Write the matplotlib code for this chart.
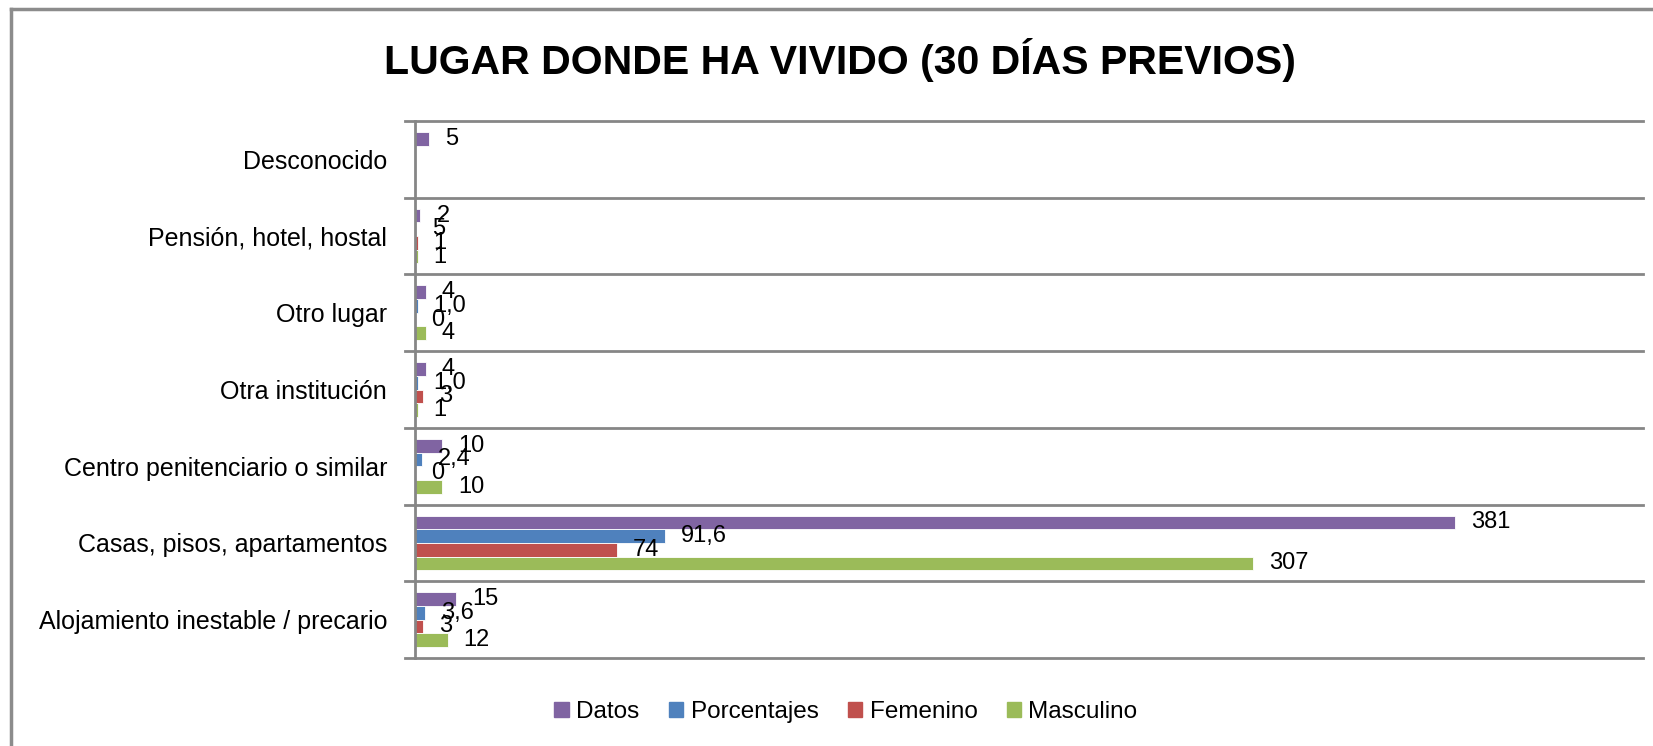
import numpy as np
import matplotlib
matplotlib.use("Agg")
import matplotlib.pyplot as plt
from matplotlib import font_manager as fm
from matplotlib.patches import Rectangle
from matplotlib.lines import Line2D

names = {f.name for f in fm.fontManager.ttflist}
FONT = "Liberation Sans Narrow" if "Liberation Sans Narrow" in names else "Liberation Sans"
TFONT = FONT
for cand in ["Liberation Sans Narrow", "DejaVu Sans Condensed"]:
    if cand in names:
        TFONT = cand
        break
plt.rcParams['font.family'] = [FONT, 'DejaVu Sans']

title = "LUGAR DONDE HA VIVIDO (30 DÍAS PREVIOS)"
categories = ["Alojamiento inestable / precario", "Casas, pisos, apartamentos",
              "Centro penitenciario o similar", "Otra institución", "Otro lugar",
              "Pensión, hotel, hostal", "Desconocido"]
series = ["Datos", "Porcentajes", "Femenino", "Masculino"]
colors = ["#8064A2", "#4F81BD", "#C0504D", "#9BBB59"]
datos = [15, 381, 10, 4, 4, 2, 5]
porcentajes = [3.6, 91.6, 2.4, 1.0, 1.0, 0.5, np.nan]
femenino = [3, 74, 0, 3, 0, 1, np.nan]
masculino = [12, 307, 10, 1, 4, 1, np.nan]
lab_datos = ["15", "381", "10", "4", "4", "2", "5"]
lab_porc = ["3,6", "91,6", "2,4", "1,0", "1,0", "5", ""]
lab_fem = ["3", "74", "0", "3", "0", "1", ""]
lab_masc = ["12", "307", "10", "1", "4", "1", ""]

values = [datos, porcentajes, femenino, masculino]
labels = [lab_datos, lab_porc, lab_fem, lab_masc]

fig = plt.figure(figsize=(16.53, 7.46), dpi=100)
ax = fig.add_axes([415/1653, 1-658/746, (1643-415)/1653, (658-121)/746])

h = 0.178
y = np.arange(len(categories))
offsets = [1.5*h, 0.5*h, -0.5*h, -1.5*h]
for vals, labs, col, off, name in zip(values, labels, colors, offsets, series):
    v = np.array(vals, dtype=float)
    ax.barh(y + off, v, height=h, color=col, edgecolor='white', linewidth=0.6, label=name)
    for yi, vi, li in zip(y, v, labs):
        if np.isnan(vi) or li == "":
            continue
        ax.annotate(li, (vi, yi + off), xytext=(11.5, 0), textcoords='offset points',
                    ha='left', va='center', fontsize=17, color='black')

ax.set_xlim(0, 450)
ax.set_ylim(-0.5, len(categories) - 0.5)
ax.set_xticks([])
ax.set_yticks(y)
ax.set_yticklabels(categories, fontsize=18)
ax.tick_params(axis='y', length=0, pad=20)
for s in ['top', 'right', 'bottom']:
    ax.spines[s].set_visible(False)
ax.spines['left'].set_color('#868686')
ax.spines['left'].set_linewidth(2)
for k in np.arange(-0.5, len(categories), 1.0):
    ax.plot([-0.0085, 1], [k, k], transform=ax.get_yaxis_transform(), color='#868686',
            lw=2, clip_on=False, zorder=0.5)

fig.text(840/1653, 1-60/746, title, ha='center', va='center', fontsize=29.5,
         fontweight='bold', family=[TFONT, 'DejaVu Sans'])

handles = [Rectangle((0, 0), 1, 1, color=c) for c in colors]
fig.legend(handles, series, loc='center', bbox_to_anchor=(846/1653, 1-712/746), ncol=4,
           frameon=False, fontsize=17.5, handlelength=0.6, handleheight=0.6,
           handletextpad=0.3, columnspacing=1.2)

fig.add_artist(Line2D([11/1653, 11/1653], [0, 1-9/746], color='#8c8c8c', lw=2.5))
fig.add_artist(Line2D([11/1653, 1], [1-9/746, 1-9/746], color='#8c8c8c', lw=2.5))

fig.savefig("out.png", dpi=100)
